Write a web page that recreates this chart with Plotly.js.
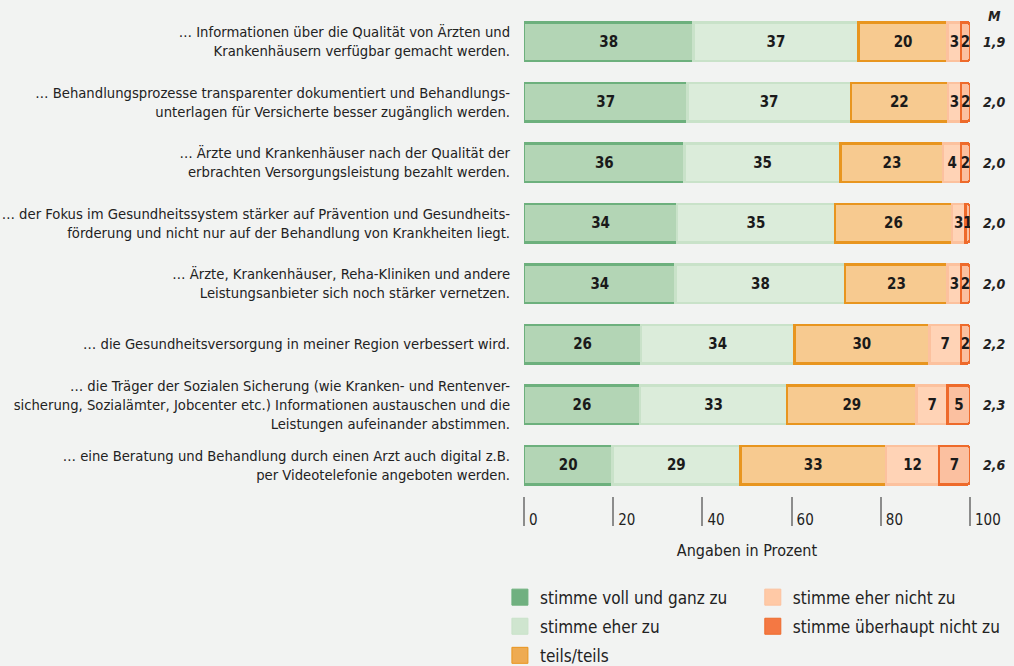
<!DOCTYPE html>
<html><head><meta charset="utf-8">
<script src="https://cdn.plot.ly/plotly-3.0.1.min.js"></script>
<style>html,body{margin:0;padding:0;background:#f2f3f2;}</style>
</head><body><div id="chart" style="width:1014px;height:666px;"></div>
<script>
const categories = [
  "… Informationen über die Qualität von Ärzten und<br>Krankenhäusern verfügbar gemacht werden.",
  "… Behandlungsprozesse transparenter dokumentiert und Behandlungs-<br>unterlagen für Versicherte besser zugänglich werden.",
  "… Ärzte und Krankenhäuser nach der Qualität der<br>erbrachten Versorgungsleistung bezahlt werden.",
  "… der Fokus im Gesundheitssystem stärker auf Prävention und Gesundheits-<br>förderung und nicht nur auf der Behandlung von Krankheiten liegt.",
  "… Ärzte, Krankenhäuser, Reha-Kliniken und andere<br>Leistungsanbieter sich noch stärker vernetzen.",
  "… die Gesundheitsversorgung in meiner Region verbessert wird.",
  "… die Träger der Sozialen Sicherung (wie Kranken- und Rentenver-<br>sicherung, Sozialämter, Jobcenter etc.) Informationen austauschen und die<br>Leistungen aufeinander abstimmen.",
  "… eine Beratung und Behandlung durch einen Arzt auch digital z.B.<br>per Videotelefonie angeboten werden."
];
const seriesNames = ["stimme voll und ganz zu", "stimme eher zu", "teils/teils", "stimme eher nicht zu", "stimme überhaupt nicht zu"];
const stimmeVoll = [38, 37, 36, 34, 34, 26, 26, 20];
const stimmeEher = [37, 37, 35, 35, 38, 34, 33, 29];
const teilsTeils = [20, 22, 23, 26, 23, 30, 29, 33];
const eherNicht = [3, 3, 4, 3, 3, 7, 7, 12];
const ueberhauptNicht = [2, 2, 2, 1, 2, 2, 5, 7];
const meanValues = ["1,9", "2,0", "2,0", "2,0", "2,0", "2,2", "2,3", "2,6"];
const meanHeader = "M";
const tickValues = [0, 20, 40, 60, 80, 100];
const tickLabels = ["0", "20", "40", "60", "80", "100"];
const axisTitle = "Angaben in Prozent";

const FONT = "'Liberation Sans Narrow', 'DejaVu Sans Condensed', 'Roboto Condensed', Roboto, sans-serif";
const TXT = '#222222';
const fills = ['#b3d5b5', '#dbecda', '#f7ca90', '#ffd3b6', '#fbc0a0'];
const borders = ['#6db07d', '#c9e2c9', '#e8951f', '#fcc19e', '#ee6a2b'];
const legendColors = ['#70b080', '#cfe5cf', '#eeab52', '#ffc9a6', '#f47843'];
const seriesValues = [stimmeVoll, stimmeEher, teilsTeils, eherNicht, ueberhauptNicht];

const traces = [];
seriesValues.forEach((vals, i) => {
  traces.push({
    type: 'bar', orientation: 'h', name: seriesNames[i],
    x: vals, y: categories, text: vals.map(String),
    textposition: 'inside', insidetextanchor: 'middle', textangle: 0, constraintext: 'none',
    textfont: {family: FONT, size: 15, color: '#1a1a1a', weight: 'bold'},
    marker: {color: fills[i], line: {color: borders[i], width: 2.5}},
    showlegend: false, hoverinfo: 'x+name'
  });
});
seriesNames.forEach((n, i) => {
  traces.push({
    type: 'scatter', mode: 'markers', x: [null], y: [null], name: n,
    legend: i < 3 ? 'legend' : 'legend2', legendgroup: 'g' + i, showlegend: true,
    marker: {symbol: 'square', size: 16, color: legendColors[i], line: {color: borders[i], width: 1}},
    hoverinfo: 'skip'
  });
});

const mFont = {family: FONT, size: 14, color: TXT, weight: 'bold', style: 'italic'};
const annotations = categories.map((c, i) => ({
  xref: 'paper', yref: 'y', x: 1.054, y: c, xanchor: 'center', yanchor: 'middle',
  text: meanValues[i], showarrow: false, font: mFont
}));
annotations.push({
  xref: 'paper', yref: 'paper', x: 1.054, y: (496 - 16) / 486, xanchor: 'center', yanchor: 'middle',
  text: meanHeader, showarrow: false, font: mFont
});

const layout = {
  width: 1014, height: 666,
  margin: {l: 524, r: 44, t: 10, b: 170, autoexpand: false},
  paper_bgcolor: '#f2f3f2', plot_bgcolor: '#f2f3f2',
  barmode: 'stack', barnorm: 'percent', bargap: 0.364, barcornerradius: 3,
  font: {family: FONT, size: 15, color: TXT},
  uniformtext: {mode: 'show', minsize: 15},
  xaxis: {
    range: [0, 100], tickvals: tickValues, ticktext: tickLabels, automargin: false,
    ticks: 'outside', ticklen: 29, tickwidth: 2, tickcolor: '#8c8c8c',
    ticklabelposition: 'outside right', ticklabelstandoff: 10, ticklabelshift: 4,
    showgrid: false, zeroline: false, showline: false, fixedrange: true,
    tickfont: {family: FONT, size: 15, color: TXT},
    title: {text: axisTitle, font: {family: FONT, size: 16, color: TXT}, standoff: 16}
  },
  yaxis: {
    type: 'category', categoryarray: categories, range: [7.509, -0.524], automargin: false,
    ticks: 'outside', ticklen: 10, tickcolor: 'rgba(0,0,0,0)',
    showgrid: false, zeroline: false, showline: false, fixedrange: true,
    tickfont: {family: FONT, size: 14.7, color: TXT}
  },
  legend: {x: -0.054, xanchor: 'left', y: -0.172, yanchor: 'top', orientation: 'v',
    tracegroupgap: 4, bgcolor: 'rgba(0,0,0,0)', font: {family: FONT, size: 17, color: TXT}},
  legend2: {x: 0.513, xanchor: 'left', y: -0.172, yanchor: 'top', orientation: 'v',
    tracegroupgap: 4, bgcolor: 'rgba(0,0,0,0)', font: {family: FONT, size: 17, color: TXT}},
  annotations: annotations
};

Plotly.newPlot('chart', traces, layout, {displayModeBar: false, staticPlot: true});
</script>
</body></html>
